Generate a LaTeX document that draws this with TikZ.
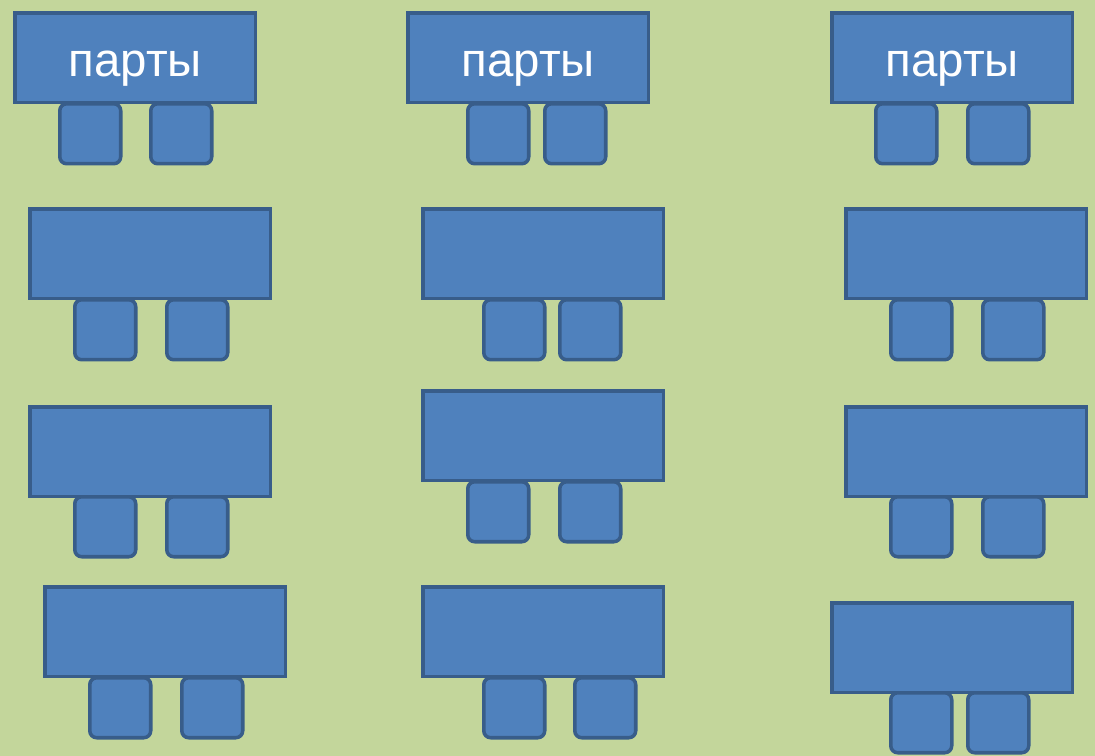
\documentclass[tikz,border=0pt]{standalone}
\usepackage{fontspec}
\setmainfont{Liberation Sans}
\usepackage{xcolor}
\usetikzlibrary{positioning}

\definecolor{classbg}{HTML}{C3D69B}
\definecolor{deskfill}{HTML}{4F81BD}
\definecolor{deskline}{HTML}{385D8A}

\begin{document}
\begin{tikzpicture}[x=0.02cm,y=-0.02cm,
  desk/.style={draw=deskline,fill=deskfill,line width=2pt,anchor=north west,
    minimum width=4.82cm,minimum height=1.8cm,inner sep=0pt,text=white,
    text height=21pt,text depth=0pt,font=\fontsize{27}{30}\selectfont},
  chair/.style={draw=deskline,fill=deskfill,line width=2pt,anchor=north west,rounded corners=4pt,
    minimum width=1.22cm,minimum height=1.2cm,inner sep=0pt}]
  \fill[classbg] (0,0) rectangle (1095,756);
  \useasboundingbox (0,0) rectangle (1095,756);
  % row 1
  \node[chair] (c11a) at (58,102) {};
  \node[chair] (c11b) at (149,102) {};
  \node[desk] (d11) at (13,11) {парты};
  \node[chair] (c12a) at (466,102) {};
  \node[chair] (c12b) at (543,102) {};
  \node[desk] (d12) at (406,11) {парты};
  \node[chair] (c13a) at (874,102) {};
  \node[chair] (c13b) at (966,102) {};
  \node[desk] (d13) at (830,11) {парты};
  % row 2
  \node[chair] (c21a) at (73,298) {};
  \node[chair] (c21b) at (165,298) {};
  \node[desk] (d21) at (28,207) {};
  \node[chair] (c22a) at (482,298) {};
  \node[chair] (c22b) at (558,298) {};
  \node[desk] (d22) at (421,207) {};
  \node[chair] (c23a) at (889,298) {};
  \node[chair] (c23b) at (981,298) {};
  \node[desk] (d23) at (844,207) {};
  % row 3
  \node[chair] (c31a) at (73,495) {};
  \node[chair] (c31b) at (165,495) {};
  \node[desk] (d31) at (28,405) {};
  \node[chair] (c32a) at (466,480) {};
  \node[chair] (c32b) at (558,480) {};
  \node[desk] (d32) at (421,389) {};
  \node[chair] (c33a) at (889,495) {};
  \node[chair] (c33b) at (981,495) {};
  \node[desk] (d33) at (844,405) {};
  % row 4
  \node[chair] (c41a) at (88,676) {};
  \node[chair] (c41b) at (180,676) {};
  \node[desk] (d41) at (43,585) {};
  \node[chair] (c42a) at (482,676) {};
  \node[chair] (c42b) at (573,676) {};
  \node[desk] (d42) at (421,585) {};
  \node[chair] (c43a) at (889,691) {};
  \node[chair] (c43b) at (966,691) {};
  \node[desk] (d43) at (830,601) {};
\end{tikzpicture}
\end{document}
